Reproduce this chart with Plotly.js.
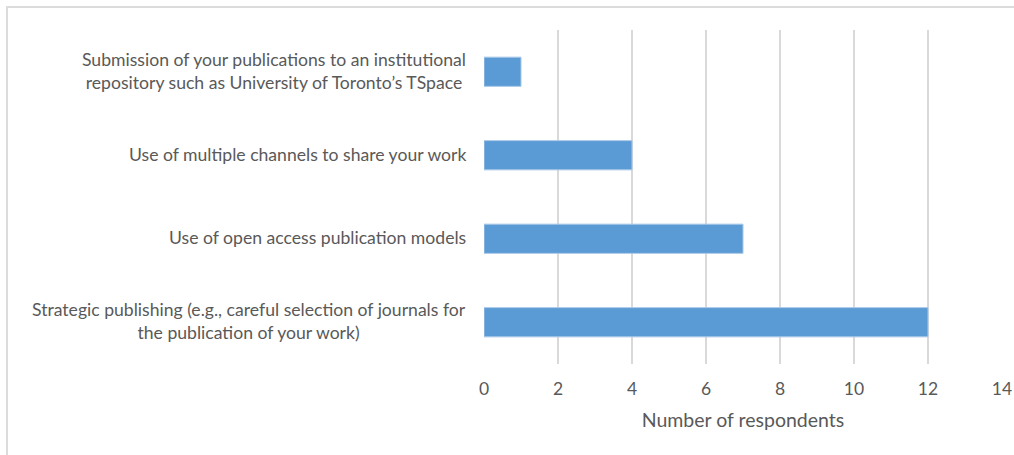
<!DOCTYPE html>
<html>
<head>
<meta charset="utf-8">
<script src="https://cdn.plot.ly/plotly-3.0.1.min.js"></script>
<style>
html,body{margin:0;padding:0;background:#fff;}
#frame{position:absolute;left:6px;top:6px;width:1100px;height:500px;border-top:2px solid #dcdcdc;border-left:2px solid #dcdcdc;pointer-events:none;z-index:5;}
#chart{position:absolute;left:0;top:0;width:1014px;height:455px;}
</style>
</head>
<body>
<div id="chart"></div>
<div id="frame"></div>
<script>
const categories = [
  "Strategic publishing (e.g., careful selection of journals for<br>the publication of your work)",
  "Use of open access publication models",
  "Use of multiple channels to share your work",
  "Submission of your publications to an institutional<br>repository such as University of Toronto’s TSpace"
];
const respondents = [12, 7, 4, 1];
const xTicks = [0, 2, 4, 6, 8, 10, 12, 14];
const xTitle = "Number of respondents";

const FONT = "Lato, 'Open Sans', sans-serif";
const TXT = "#595959";

const trace = {
  type: "bar",
  orientation: "h",
  y: categories.map((c, i) => i),
  x: respondents,
  marker: {color: "#5b9bd5", line: {color: "#a9c8e8", width: 1}},
  hoverinfo: "x"
};

const annotations = categories.map((c, i) => ({
  xref: "paper", yref: "y",
  x: 0, y: i,
  xanchor: "right", yanchor: "middle",
  xshift: -16, yshift: 1,
  align: "center",
  text: c,
  showarrow: false,
  font: {family: FONT, size: 17.6, color: TXT}
}));

const layout = {
  width: 1014, height: 455,
  margin: {l: 484, r: 12, t: 30, b: 91},
  paper_bgcolor: "#fff", plot_bgcolor: "#fff",
  showlegend: false,
  bargap: 0.65,
  xaxis: {
    range: [0, 14],
    tickvals: xTicks,
    ticktext: xTicks.map(String),
    showgrid: true, gridcolor: "#d9d9d9", gridwidth: 1.5,
    zeroline: false, showline: false,
    ticks: "", ticklabelstandoff: 12,
    tickfont: {family: FONT, size: 17.5, color: TXT},
    title: {text: xTitle, font: {family: FONT, size: 19.5, color: TXT}, standoff: 15}
  },
  yaxis: {
    range: [-0.5, 3.5],
    showgrid: false, zeroline: false, showline: false,
    showticklabels: false, ticks: ""
  },
  annotations: annotations
};

Plotly.newPlot("chart", [trace], layout, {displayModeBar: false, staticPlot: true});
</script>
</body>
</html>
